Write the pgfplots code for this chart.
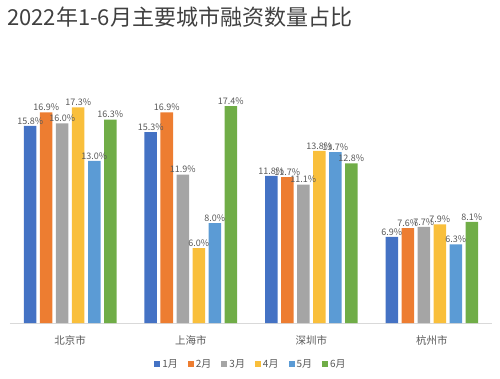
\documentclass[border=0pt]{standalone}
\usepackage{fontspec}
\setmainfont{Noto Sans CJK SC}
\usepackage{pgfplots}
\pgfplotsset{compat=1.18}
\definecolor{c1}{HTML}{4472C4}
\definecolor{c2}{HTML}{ED7D31}
\definecolor{c3}{HTML}{A5A5A5}
\definecolor{c4}{HTML}{F9BF3B}
\definecolor{c5}{HTML}{5B9BD5}
\definecolor{c6}{HTML}{70AD47}
\definecolor{txt}{HTML}{595959}
\begin{document}
\begin{tikzpicture}
\path[use as bounding box] (0,0) rectangle (500pt,378pt);
\node[anchor=west, text=black!75, font=\fontsize{22}{24}\selectfont, inner sep=0pt] at (7pt,361pt) {2022年1-6月主要城市融资数量占比};
\begin{axis}[
  at={(10pt,55pt)}, anchor=south west,
  scale only axis, width=482pt, height=249.4pt,
  xmin=-0.5, xmax=3.5, ymin=0, ymax=20,
  axis x line*=bottom, axis y line=none,
  x axis line style={draw=black!15, line width=0.8pt, -},
  ybar=3.5pt, bar width=12.5pt,
  xtick={0,1,2,3},
  xticklabels={北京市,上海市,深圳市,杭州市},
  major tick length=0pt,
  xticklabel style={font=\fontsize{10.5}{12}\selectfont, text=txt, yshift=-9pt},
  /pgf/number format/assume math mode=true,
  nodes near coords={\pgfmathprintnumber[fixed,fixed zerofill,precision=1]{\pgfplotspointmeta}\%},
  nodes near coords style={font=\fontsize{9}{10}\selectfont, text=txt, inner sep=1.5pt},
  legend style={at={(0.5,-0.164)}, anchor=center, draw=none, legend columns=6, font=\fontsize{10}{12}\selectfont, text=txt, /tikz/every even column/.append style={column sep=8pt}},
  legend image code/.code={\fill[#1] (0pt,-3pt) rectangle (6pt,3pt);},
  clip=false,
]
\addplot[fill=c1, draw=none] coordinates {(0,15.8) (1,15.3) (2,11.8) (3,6.9)};
\addplot[fill=c2, draw=none] coordinates {(0,16.9) (1,16.9) (2,11.7) (3,7.6)};
\addplot[fill=c3, draw=none] coordinates {(0,16.0) (1,11.9) (2,11.1) (3,7.7)};
\addplot[fill=c4, draw=none] coordinates {(0,17.3) (1,6.0) (2,13.8) (3,7.9)};
\addplot[fill=c5, draw=none] coordinates {(0,13.0) (1,8.0) (2,13.7) (3,6.3)};
\addplot[fill=c6, draw=none] coordinates {(0,16.3) (1,17.4) (2,12.8) (3,8.1)};
\legend{1月,2月,3月,4月,5月,6月}
\end{axis}
\end{tikzpicture}
\end{document}
